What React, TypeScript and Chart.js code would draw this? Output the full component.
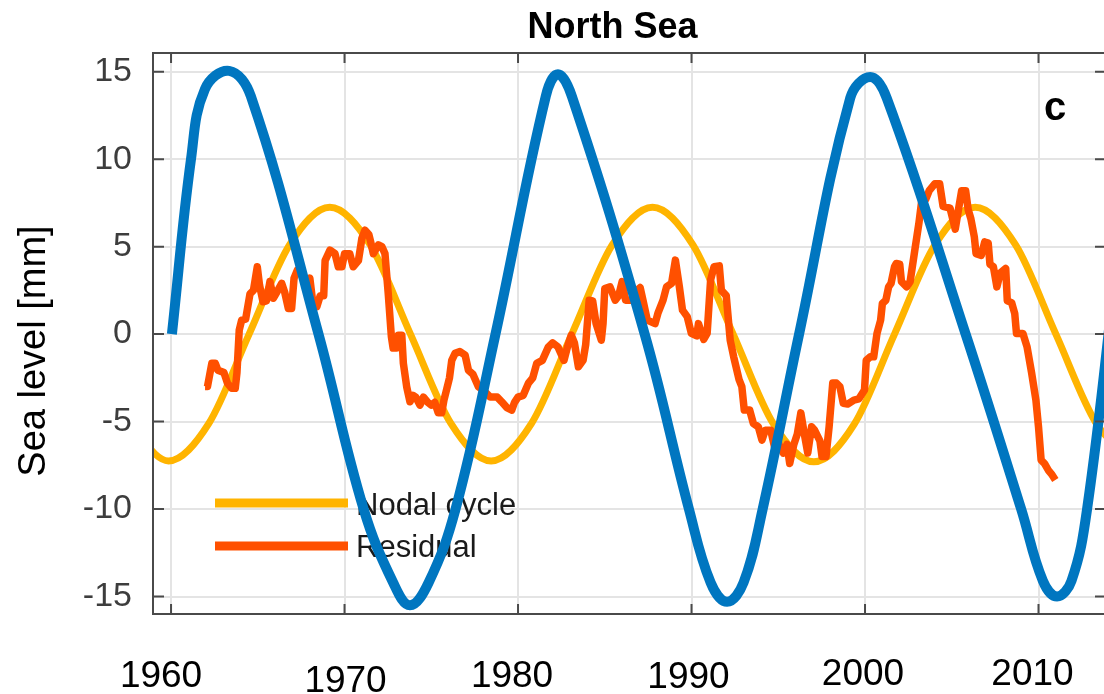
import { useEffect, useRef } from "react";
import { Chart, registerables } from "chart.js";

Chart.register(...registerables);

// ---------- data ----------
const X_TICKS = [1960, 1970, 1980, 1990, 2000, 2010];
const Y_TICKS = [-15, -10, -5, 0, 5, 10, 15];
const X_MIN = 1958.96;
const X_MAX = 2013.89;
const Y_MIN = -16;
const Y_MAX = 16.07;

const TITLE = "North Sea";
const Y_TITLE = "Sea level [mm]";
const PANEL_LABEL = "c";
const LEGEND_LABELS = ["Nodal cycle", "Residual"];

const NODAL_YEARS = [
  1957.53, 1959.85, 1962.18, 1964.5, 1966.83, 1969.15, 1971.48, 1973.8, 1976.13,
  1978.45, 1980.78, 1983.1, 1985.43, 1987.75, 1990.08, 1992.4, 1994.73, 1997.05,
  1999.38, 2001.7, 2004.03, 2006.35, 2008.68, 2011.0, 2013.33, 2015.65,
];
const NODAL_VALUES = [
  -5.1, -7.25, -5.1, 0, 5.1, 7.25, 5.1, 0, -5.1, -7.25, -5.1, 0, 5.1, 7.25, 5.1, 0,
  -5.15, -7.3, -5.15, 0, 5.1, 7.25, 5.1, 0, -5.1, -7.25,
];

const BLUE_YEARS = [
  1960.05, 1961.15, 1961.95, 1963.35, 1964.6, 1968.5, 1971.1, 1972.8, 1973.77,
  1974.85, 1976.4, 1978.7, 1981.6, 1982.3, 1983.1, 1987.3, 1989.85, 1991.1,
  1992.05, 1993.0, 1994.1, 1996.2, 1999.15, 2000.3, 2001.25, 2005.8, 2009.0,
  2010.25, 2011.07, 2011.9, 2012.8, 2014.5,
];
const BLUE_VALUES = [
  0, 10, 14.0, 15.05, 13.6, 0, -10, -14.2, -15.5, -14.2, -10, 0, 13.6, 14.85,
  13.6, 0, -10, -14.2, -15.3, -14.2, -10, 0, 13.5, 14.7, 13.5, 0, -10, -14.1,
  -15.0, -14.1, -10, 4,
];

const RESID_YEARS = [
  1961.96, 1962.1, 1962.35, 1962.55, 1962.7, 1963.05, 1963.25, 1963.5, 1963.7,
  1963.8, 1963.93, 1964.07, 1964.3, 1964.55, 1964.75, 1964.97, 1965.1, 1965.3,
  1965.5, 1965.7, 1965.9, 1966.1, 1966.38, 1966.55, 1966.76, 1966.95, 1967.09,
  1967.28, 1967.5, 1967.8, 1968.0, 1968.2, 1968.4, 1968.6, 1968.8, 1968.88,
  1969.16, 1969.45, 1969.64, 1969.85, 1970.0, 1970.3, 1970.5, 1970.8, 1971.0,
  1971.18, 1971.4, 1971.5, 1971.66, 1971.95, 1972.15, 1972.33, 1972.52, 1972.7,
  1972.8, 1973.0, 1973.1, 1973.3, 1973.39, 1973.58, 1973.77, 1973.95, 1974.1,
  1974.35, 1974.55, 1974.8, 1975.0, 1975.2, 1975.4, 1975.6, 1975.73, 1975.9,
  1976.05, 1976.18, 1976.37, 1976.65, 1976.95, 1977.14, 1977.4, 1977.71, 1978.0,
  1978.4, 1978.8, 1979.06, 1979.35, 1979.64, 1979.8, 1980.0, 1980.3, 1980.6,
  1980.85, 1981.08, 1981.4, 1981.75, 1982.0, 1982.3, 1982.65, 1982.85, 1983.07,
  1983.25, 1983.48, 1983.75, 1983.9, 1984.1, 1984.3, 1984.5, 1984.8, 1984.9,
  1985.0, 1985.3, 1985.6, 1985.8, 1986.0, 1986.2, 1986.6, 1986.85, 1987.04,
  1987.2, 1987.45, 1987.9, 1988.06, 1988.36, 1988.56, 1988.85, 1989.07, 1989.3,
  1989.48, 1989.75, 1989.99, 1990.3, 1990.4, 1990.7, 1990.9, 1991.1, 1991.3,
  1991.6, 1991.72, 1992.0, 1992.23, 1992.43, 1992.74, 1992.9, 1993.04, 1993.35,
  1993.56, 1993.85, 1994.06, 1994.25, 1994.57, 1994.78, 1995.05, 1995.29, 1995.5,
  1995.66, 1995.9, 1996.1, 1996.3, 1996.5, 1996.7, 1996.92, 1997.1, 1997.4,
  1997.52, 1997.75, 1997.93, 1998.14, 1998.35, 1998.55, 1998.75, 1999.0, 1999.36,
  1999.65, 1999.97, 2000.07, 2000.3, 2000.5, 2000.69, 2000.9, 2001.0, 2001.2,
  2001.36, 2001.5, 2001.7, 2001.8, 2002.0, 2002.1, 2002.4, 2002.6, 2002.9,
  2003.1, 2003.26, 2003.5, 2003.7, 2004.03, 2004.3, 2004.5, 2004.9, 2005.2,
  2005.4, 2005.57, 2005.8, 2005.95, 2006.1, 2006.3, 2006.4, 2006.7, 2006.9,
  2007.1, 2007.2, 2007.4, 2007.6, 2007.8, 2008.11, 2008.2, 2008.45, 2008.63,
  2008.73, 2009.1, 2009.34, 2009.6, 2009.85, 2010.0, 2010.15, 2010.35, 2010.56,
  2010.75, 2010.97,
];
const RESID_VALUES = [
  -3.0, -3.0, -1.67, -1.67, -2.06, -2.2, -2.8, -3.1, -3.1, -2.2, 0.23, 0.8, 0.86,
  2.3, 2.5, 3.85, 2.8, 1.85, 1.9, 3.0, 2.05, 2.4, 2.9, 2.4, 1.47, 1.47, 3.2, 3.66,
  3.75, 2.8, 3.2, 1.56, 1.56, 2.2, 2.2, 4.2, 4.8, 4.6, 3.85, 3.85, 4.6, 4.6, 3.85,
  4.2, 5.47, 5.94, 5.7, 5.3, 4.6, 5.1, 5.0, 4.6, 2.3, -0.15, -0.8, -0.8, -0.06,
  -0.06, -1.67, -3.0, -3.87, -3.5, -3.6, -4.06, -3.6, -3.9, -4.06, -3.9, -4.5,
  -4.5, -3.77, -3.1, -2.5, -1.5, -1.1, -1.0, -1.2, -2.06, -2.3, -3.0, -3.2, -3.6,
  -3.6, -3.87, -4.2, -4.34, -3.9, -3.6, -3.5, -2.8, -2.5, -1.67, -1.5, -0.73,
  -0.5, -0.73, -1.5, -0.73, -0.06, -0.5, -1.87, -1.5, -0.6, 1.94, 1.9, 0.6,
  -0.35, 0.6, 2.6, 2.7, 1.94, 2.2, 3.0, 1.94, 1.94, 2.5, 2.66, 1.94, 0.8, 0.6,
  1.18, 1.94, 2.7, 2.9, 4.23, 2.7, 1.37, 1.0, 0.04, -0.1, 0.6, -0.3, 0.04, 3.1,
  3.85, 3.9, 2.5, 2.2, -0.35, -1.3, -2.6, -3.0, -4.34, -4.34, -5.1, -5.3, -6.06,
  -5.5, -5.5, -6.44, -6.3, -6.8, -6.3, -7.4, -6.3, -5.7, -4.5, -5.7, -6.8, -5.3,
  -5.5, -6.1, -7.0, -7.0, -5.3, -2.8, -2.8, -3.0, -3.96, -4.0, -3.77, -3.7, -3.2,
  -1.5, -1.3, -1.3, 0.04, 0.8, 1.75, 1.94, 2.7, 2.9, 3.85, 4.04, 4.0, 3.0, 2.7,
  3.0, 5.0, 6.3, 7.56, 7.7, 8.2, 8.6, 8.6, 7.3, 7.2, 6.0, 7.2, 8.2, 8.2, 7.1, 6.6,
  5.56, 4.6, 4.5, 5.27, 5.2, 4.0, 3.85, 2.7, 3.5, 3.75, 1.9, 1.8, 1.18, 0.04,
  0.04, -0.73, -2.2, -3.77, -5.3, -7.2, -7.4, -7.77, -8.0, -8.34,
];

// ---------- styles ----------
const BLUE = "#0076C0";
const YELLOW = "#FFB400";
const ORANGE = "#FF5000";
const AXIS = "#4a4a4a";
const GRID = "#e4e4e4";
const FONT = '"Liberation Sans", Arial, Helvetica, sans-serif';
const CANVAS_W = 1112;
const CANVAS_H = 694;
const X_LABEL_DX = [-10, 1, -6, -3, -2, -6];
const X_LABEL_BASE = [687, 692, 687, 688, 685, 685];

const pts = (xs: number[], ys: number[]) => xs.map((x, i) => ({ x, y: ys[i] }));

const decorPlugin = {
  id: "decor",
  beforeDatasetsDraw(chart: any) {
    const ctx = chart.ctx;
    ctx.save();
    const colors = [YELLOW, ORANGE];
    const ys = [503, 546];
    const bases = [515, 557];
    ctx.lineWidth = 9;
    ctx.lineCap = "butt";
    LEGEND_LABELS.forEach((lab, i) => {
      ctx.strokeStyle = colors[i];
      ctx.beginPath();
      ctx.moveTo(215, ys[i]);
      ctx.lineTo(348, ys[i]);
      ctx.stroke();
      ctx.fillStyle = "#1a1a1a";
      ctx.font = `31px ${FONT}`;
      ctx.textAlign = "left";
      ctx.textBaseline = "alphabetic";
      ctx.fillText(lab, 356, bases[i]);
    });
    ctx.restore();
  },
  afterDraw(chart: any) {
    const ctx = chart.ctx;
    const { left, right, top, bottom } = chart.chartArea;
    const xs = chart.scales.x;
    const ysc = chart.scales.y;
    ctx.save();
    ctx.strokeStyle = AXIS;
    ctx.lineWidth = 2;
    ctx.strokeRect(left, top, right - left, bottom - top);
    ctx.beginPath();
    X_TICKS.forEach((v) => {
      const px = xs.getPixelForValue(v);
      ctx.moveTo(px, top);
      ctx.lineTo(px, top + 10);
      ctx.moveTo(px, bottom);
      ctx.lineTo(px, bottom - 10);
    });
    Y_TICKS.forEach((v) => {
      const py = ysc.getPixelForValue(v);
      ctx.moveTo(left, py);
      ctx.lineTo(left + 11, py);
      ctx.moveTo(right, py);
      ctx.lineTo(right - 11, py);
    });
    ctx.stroke();
    ctx.fillStyle = "#000";
    ctx.font = `37px ${FONT}`;
    ctx.textAlign = "center";
    ctx.textBaseline = "alphabetic";
    X_TICKS.forEach((v, i) => {
      ctx.fillText(String(v), xs.getPixelForValue(v) + X_LABEL_DX[i], X_LABEL_BASE[i]);
    });
    ctx.font = `bold 36px ${FONT}`;
    ctx.fillText(TITLE, 612.5, 38);
    ctx.font = `bold 40px ${FONT}`;
    ctx.fillText(PANEL_LABEL, 1055, 120);
    ctx.translate(45, 351);
    ctx.rotate(-Math.PI / 2);
    ctx.font = `38px ${FONT}`;
    ctx.fillText(Y_TITLE, 0, 0);
    ctx.restore();
  },
};

export default function App() {
  const ref = useRef<HTMLCanvasElement | null>(null);

  useEffect(() => {
    if (!ref.current) return;
    const chart = new Chart(ref.current, {
      type: "line",
      data: {
        datasets: [
          {
            label: "Overlay",
            data: pts(BLUE_YEARS, BLUE_VALUES),
            borderColor: BLUE,
            borderWidth: 10,
            pointRadius: 0,
            tension: 0.4,
            order: 0,
            clip: 0,
          },
          {
            label: LEGEND_LABELS[1],
            data: pts(RESID_YEARS, RESID_VALUES),
            borderColor: ORANGE,
            borderWidth: 7.5,
            pointRadius: 0,
            tension: 0,
            borderJoinStyle: "round",
            order: 1,
            clip: 0,
          },
          {
            label: LEGEND_LABELS[0],
            data: pts(NODAL_YEARS, NODAL_VALUES),
            borderColor: YELLOW,
            borderWidth: 7,
            pointRadius: 0,
            cubicInterpolationMode: "monotone",
            order: 2,
            clip: 0,
          },
        ],
      } as any,
      options: {
        animation: false,
        responsive: false,
        events: [],
        layout: { padding: { top: 53, right: CANVAS_W - 1106, left: 0, bottom: 0 } },
        plugins: {
          legend: { display: false },
          tooltip: { enabled: false },
          title: { display: false },
        },
        scales: {
          x: {
            type: "linear",
            min: X_MIN,
            max: X_MAX,
            ticks: { display: false },
            grid: { color: GRID, lineWidth: 2, drawTicks: false },
            border: { display: false },
            afterBuildTicks: (s: any) => {
              s.ticks = X_TICKS.map((v) => ({ value: v }));
            },
            afterFit: (s: any) => {
              s.height = 80;
            },
          },
          y: {
            type: "linear",
            min: Y_MIN,
            max: Y_MAX,
            ticks: {
              color: "#3d3d3d",
              font: { family: FONT, size: 34 },
              padding: 21,
              callback: (v: any) => String(v),
            },
            grid: { color: GRID, lineWidth: 2, drawTicks: false },
            border: { display: false },
            afterBuildTicks: (s: any) => {
              s.ticks = Y_TICKS.map((v) => ({ value: v }));
            },
            afterFit: (s: any) => {
              s.width = 153;
            },
          },
        },
      } as any,
      plugins: [decorPlugin],
    });
    return () => chart.destroy();
  }, []);

  return (
    <div
      style={{
        position: "fixed",
        left: 0,
        top: 0,
        width: 1104,
        height: 694,
        overflow: "hidden",
        background: "#fff",
      }}
    >
      <canvas ref={ref} width={CANVAS_W} height={CANVAS_H} style={{ display: "block" }} />
    </div>
  );
}
